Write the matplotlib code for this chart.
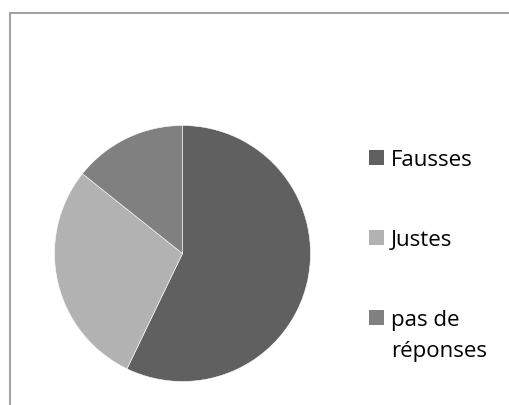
import matplotlib
matplotlib.use("Agg")
import matplotlib.pyplot as plt
from matplotlib.patches import Rectangle

# Data
labels = ["Fausses", "Justes", "pas de\nréponses"]
values = [8, 4, 2]
colors = ["#606060", "#b2b2b2", "#808080"]

W, H = 509, 406
fig = plt.figure(figsize=(W / 100, H / 100), dpi=100)
fig.patch.set_facecolor("white")

# chart border (runs off the right and bottom edges)
fig.patches.append(Rectangle((9.5 / W, -0.1), 1.2, (H - 14) / H + 0.1,
                             transform=fig.transFigure, fill=False,
                             edgecolor="#a0a0a0", linewidth=1.4))

# Pie
cx, cy, r = 182.5, 254.5, 128
ax = fig.add_axes([(cx - r) / W, (H - cy - r) / H, 2 * r / W, 2 * r / H])
ax.pie(values, colors=colors, startangle=90, counterclock=False,
       wedgeprops=dict(edgecolor="white", linewidth=0.4))
ax.set_xlim(-1, 1)
ax.set_ylim(-1, 1)
ax.axis("off")

# Legend drawn by hand, one text line at a time
legend_tops = [151, 231, 311]
line_gap = 31
sq = 15
for lab, col, top in zip(labels, colors, legend_tops):
    base = top + sq
    fig.patches.append(Rectangle((369 / W, (H - base) / H), sq / W, sq / H,
                                 transform=fig.transFigure, facecolor=col,
                                 edgecolor="none"))
    for i, line in enumerate(lab.split("\n")):
        fig.text(391 / W, (H - base - i * line_gap) / H, line, fontsize=16,
                 family="Open Sans", color="black", va="baseline", ha="left")

fig.savefig("out.png", dpi=100)
